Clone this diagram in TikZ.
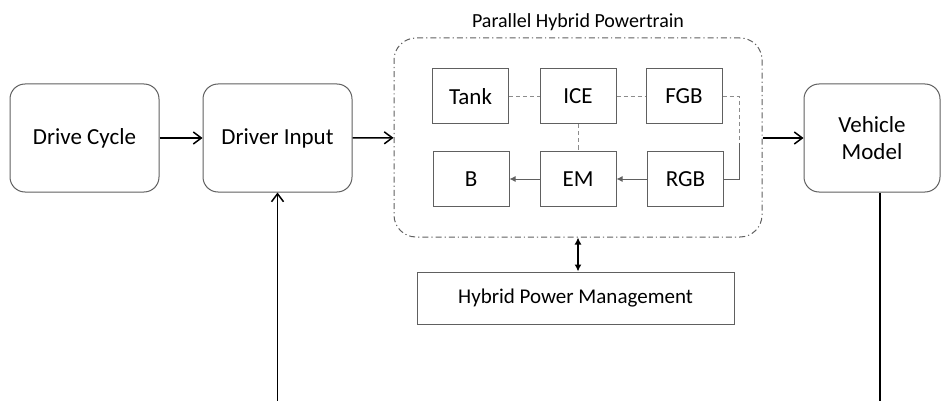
\documentclass[tikz,border=0pt]{standalone}
\usepackage{fontspec}
\setmainfont{Carlito}
\usetikzlibrary{arrows.meta}
\definecolor{boxgray}{HTML}{606060}
\definecolor{linkgray}{HTML}{8C8C8C}
\begin{document}
\begin{tikzpicture}[x=0.5pt,y=-0.5pt,
	block/.style={rectangle, draw=boxgray, line width=0.5pt, rounded corners=7.5pt, minimum width=74.5pt, minimum height=54pt, align=center, font=\fontsize{11.5}{13.5}\selectfont},
	part/.style={rectangle, draw=boxgray, line width=0.5pt, minimum width=38pt, minimum height=27.5pt, font=\fontsize{11.5}{13.5}\selectfont},
	flow/.style={-{Straight Barb[length=4pt,width=6pt]}, line width=0.75pt},
	link/.style={draw=linkgray, line width=0.5pt, dash pattern=on 2pt off 1.5pt},
	power/.style={-{Latex[length=3pt,width=3pt]}, draw=boxgray, line width=0.5pt}]
				\useasboundingbox (0,0) rectangle (942,401);
				\path
				(84.5,138) node[block](dc){Drive Cycle}
				(277.5,138) node[block](di){Driver Input}
				(872,138) node[block, minimum width=68pt](vm){Vehicle\\Model}
				(578,137.5) node[rectangle, draw=boxgray, line width=0.5pt, dash pattern=on 3pt off 1.5pt on 0.6pt off 1.5pt, rounded corners=11pt, minimum width=184pt, minimum height=99.5pt](pt){}
				(578,22) node[font=\fontsize{10}{12}\selectfont](ptt){Parallel Hybrid Powertrain}
				(470.5,96.5) node[part](tank){Tank}
				(578,96.5) node[part](ice){ICE}
				(684,96.5) node[part](fgb){FGB}
				(471,179) node[part](b){B}
				(578,179) node[part](em){EM}
				(685.5,179) node[part](rgb){RGB}
				(575.5,298) node[rectangle, draw=boxgray, line width=0.5pt, minimum width=158.5pt, minimum height=26pt, font=\fontsize{10.5}{12}\selectfont](hpm){Hybrid Power Management}
				(739,143) coordinate(bend)
				(277.5,401) coordinate(difoot)
				(880,401) coordinate(vmfoot)
				;
				\draw[flow] (dc)--(di);
				\draw[flow] (di)--(pt);
				\draw[flow] (pt.east|-vm)--(vm);
				\draw[flow] (difoot)--(di);
				\draw[line width=0.75pt] (vmfoot|-vm.south)--(vmfoot);
				\draw[{Latex[length=3.5pt,width=3.5pt]}-{Latex[length=3.5pt,width=3.5pt]}, line width=0.75pt] (pt.south-|ice)--(hpm.north-|ice);
				\draw[link] (tank)--(ice);
				\draw[link] (ice)--(fgb);
				\draw[link] (ice)--(em);
				\draw[link] (fgb.east)-|(bend);
				\draw[boxgray, line width=0.5pt] (bend)|-(rgb.east);
				\draw[power] (rgb)--(em);
				\draw[power] (em)--(b);
			\end{tikzpicture}
\end{document}
